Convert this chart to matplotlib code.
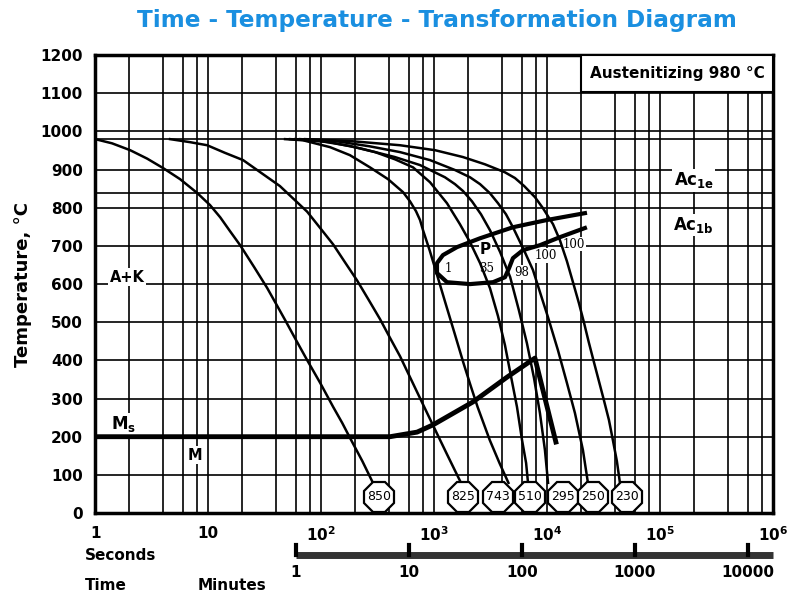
import matplotlib
matplotlib.use('Agg')
import matplotlib.pyplot as plt
import matplotlib.transforms as mtransforms
from matplotlib.patches import Rectangle
from matplotlib.ticker import NullLocator

# cooling curves, time in s / temperature in C
t_850 = [1, 1.41, 2.04, 2.88, 4.0, 5.65, 7.99, 10.4, 12.8, 15.6, 19.2, 25.5, 33.3,
         40.0, 48.0, 60.1, 75.2, 98.2, 128, 154, 181, 232, 288]
T_850 = [980, 969, 951, 929, 904, 875, 839, 807, 775, 739, 702, 645, 590,
         548, 506, 453, 401, 341, 278, 236, 196, 136, 79]

t_825 = [4.6, 6.93, 9.8, 14.1, 20.4, 30.0, 43.2, 57.7, 75.2, 98.2, 128, 163, 208,
         266, 333, 408, 500, 693, 983, 1303, 1734]
T_825 = [980, 972, 964, 944, 925, 890, 857, 822, 790, 747, 704, 657, 610,
         557, 508, 459, 411, 323, 229, 154, 79]

t_743 = [48, 69.2, 120, 180, 271, 392, 532, 613, 693, 752, 800, 914, 1033,
         1264, 1518, 1824, 2104, 2432, 3118, 3800, 4563]
T_743 = [980, 977, 959, 938, 906, 875, 841, 817, 791, 768, 741, 689, 637,
         550, 472, 393, 335, 278, 191, 131, 79]

t_510 = [53.1, 98.2, 180, 301, 452, 652, 922, 1303, 1697, 2084, 2558, 3133, 3688,
         4250, 4800, 5430, 6020, 6540, 6800]
T_510 = [980, 975, 962, 946, 927, 906, 867, 812, 757, 710, 655, 589, 516,
         440, 359, 278, 191, 131, 79]

t_295 = [59.1, 120, 221, 451, 752, 1250, 1534, 1806, 2169, 2607, 3133, 3850, 4730,
         5640, 6650, 7680, 8670, 9600, 10230]
T_295 = [980, 972, 956, 933, 912, 880, 862, 844, 817, 783, 741, 684, 618,
         532, 445, 354, 262, 165, 79]

t_250 = [65.1, 133, 271, 500, 922, 1534, 2084, 2558, 3133, 3688, 4340, 5000, 6260,
         7520, 8850, 10200, 12510, 15030, 17700, 20830, 23070]
T_250 = [980, 975, 961, 946, 925, 899, 880, 862, 838, 812, 783, 749, 689,
         637, 571, 514, 427, 341, 262, 165, 79]

t_230 = [72.1, 180, 500, 1021, 1806, 2827, 4250, 5210, 6290, 7830, 9220, 11320, 13030,
         15030, 17000, 19200, 21250, 23450, 26040, 28840, 31930, 35390, 38370, 41620, 44300]
T_230 = [980, 975, 964, 951, 933, 914, 893, 878, 857, 828, 799, 757, 715,
         660, 605, 550, 500, 448, 396, 346, 296, 244, 191, 136, 79]

curve_names = ['850', '825', '743', '510', '295', '250', '230']
label_t = [326, 1806, 3680, 7080, 13870, 25500, 51000]
label_T = 42

# pearlite region (start + finish)
p_t = [21700, 10000, 5000, 2550, 1600, 1200, 1063, 1063, 1303, 2083, 3330,
       4250, 4620, 5000, 6130, 8670, 13030, 21700]
p_T = [786, 768, 749, 720, 697, 676, 655, 629, 605, 600, 605,
       618, 642, 668, 689, 702, 723, 747]

# Ms / martensite line
ms_t = [1, 408, 708, 980, 2210, 4430, 7830, 12000]
ms_T = [200, 200, 212, 231, 291, 356, 406, 186]

hard_labels = ['1', '35', '98', '100', '100']
hard_t = [1330, 2900, 6000, 9800, 17300]
hard_T = [640, 641, 630, 675, 705]

fig = plt.figure(figsize=(8, 6), dpi=100)
ax = fig.add_axes([0.119, 0.145, 0.847, 0.763])
ax.set_xscale('log')
ax.set_xlim(1, 1e6)
ax.set_ylim(0, 1200)

# grid
for n in range(6):
    for m in [1, 2, 4, 6, 8]:
        ax.axvline(m * 10 ** n, color='k', lw=1.2, zorder=1)
for T in list(range(100, 1200, 100)) + [980, 840]:
    ax.axhline(T, color='k', lw=1.2, zorder=1)

ax.xaxis.set_minor_locator(NullLocator())
ax.set_xticks([1, 10, 100, 1e3, 1e4, 1e5, 1e6])
ax.set_xticklabels(['1', '10', r'$\mathbf{10^2}$', r'$\mathbf{10^3}$',
                    r'$\mathbf{10^4}$', r'$\mathbf{10^5}$', r'$\mathbf{10^6}$'],
                   fontsize=11, fontweight='bold')
ax.set_yticks(range(0, 1300, 100))
ax.set_yticklabels([str(v) for v in range(0, 1300, 100)], fontsize=11, fontweight='bold')
ax.tick_params(length=0, pad=9)
for s in ax.spines.values():
    s.set_linewidth(2.5)

ax.set_ylabel('Temperature, °C', fontsize=13, fontweight='bold', labelpad=6)

curves = [(t_850, T_850), (t_825, T_825), (t_743, T_743), (t_510, T_510),
          (t_295, T_295), (t_250, T_250), (t_230, T_230)]
for (t, T) in curves:
    ax.plot(t, T, color='k', lw=1.8, zorder=3, solid_joinstyle='round')

ax.plot(p_t, p_T, color='k', lw=3, zorder=4, solid_joinstyle='round')
ax.plot(ms_t, ms_T, color='k', lw=3.5, zorder=4, solid_joinstyle='round')

for name, t in zip(curve_names, label_t):
    ax.plot(t, label_T, marker='8', ms=23, mfc='white', mec='k', mew=1.6, zorder=5, clip_on=False)
    ax.text(t, label_T, name, ha='center', va='center', fontsize=9, zorder=6)

# labels break the grid but sit under the curves
for s, t, T in zip(hard_labels, hard_t, hard_T):
    ax.text(t, T, s, ha='center', va='center', fontsize=8.5, family='DejaVu Serif', zorder=2,
            bbox=dict(facecolor='white', edgecolor='none', pad=0.5))
ax.text(2850, 690, 'P', ha='center', va='center', fontsize=11, fontweight='bold', zorder=2,
        bbox=dict(facecolor='white', edgecolor='none', pad=0.5))

wb = dict(facecolor='white', edgecolor='none', pad=1)
ax.text(1.92, 618, 'A+K', ha='center', va='center', fontsize=10.5, fontweight='bold', zorder=2, bbox=wb)
ax.text(1.8, 232, r'$\mathbf{M_s}$', ha='center', va='center', fontsize=12, zorder=2, bbox=wb)
ax.text(7.7, 152, 'M', ha='center', va='center', fontsize=10.5, fontweight='bold', zorder=2, bbox=wb)
ax.text(2.0e5, 872, r'$\mathbf{Ac_{1e}}$', ha='center', va='center', fontsize=12, zorder=2, bbox=wb)
ax.text(2.0e5, 755, r'$\mathbf{Ac_{1b}}$', ha='center', va='center', fontsize=12, zorder=2, bbox=wb)

ax.add_patch(Rectangle((0.717, 0.919), 0.283, 0.081, transform=ax.transAxes,
                       facecolor='white', edgecolor='k', lw=1.5, zorder=6))
ax.text(0.8585, 0.9595, 'Austenitizing 980 °C', transform=ax.transAxes, ha='center', va='center',
        fontsize=11, fontweight='bold', zorder=7)

# minutes scale below
tr = mtransforms.blended_transform_factory(ax.transData, ax.transAxes)
ax.plot([60, 1e6], [-0.092, -0.092], color='#333333', lw=5, transform=tr, clip_on=False,
        solid_capstyle='butt')
for m in [1, 10, 100, 1000, 10000]:
    ax.plot([m * 60, m * 60], [-0.070, -0.092], color='k', lw=3, transform=tr, clip_on=False)
    ax.text(m * 60, -0.129, str(m), transform=tr, ha='center', va='center',
            fontsize=11, fontweight='bold')

fig.text(0.106, 0.075, 'Seconds', ha='left', va='center', fontsize=11, fontweight='bold')
fig.text(0.106, 0.025, 'Time', ha='left', va='center', fontsize=11, fontweight='bold')
fig.text(0.247, 0.025, 'Minutes', ha='left', va='center', fontsize=11, fontweight='bold')

fig.text(0.546, 0.965, 'Time - Temperature - Transformation Diagram', ha='center', va='center',
         fontsize=16.7, fontweight='bold', color='#1a8fe0')

fig.savefig('out.png', dpi=100)
